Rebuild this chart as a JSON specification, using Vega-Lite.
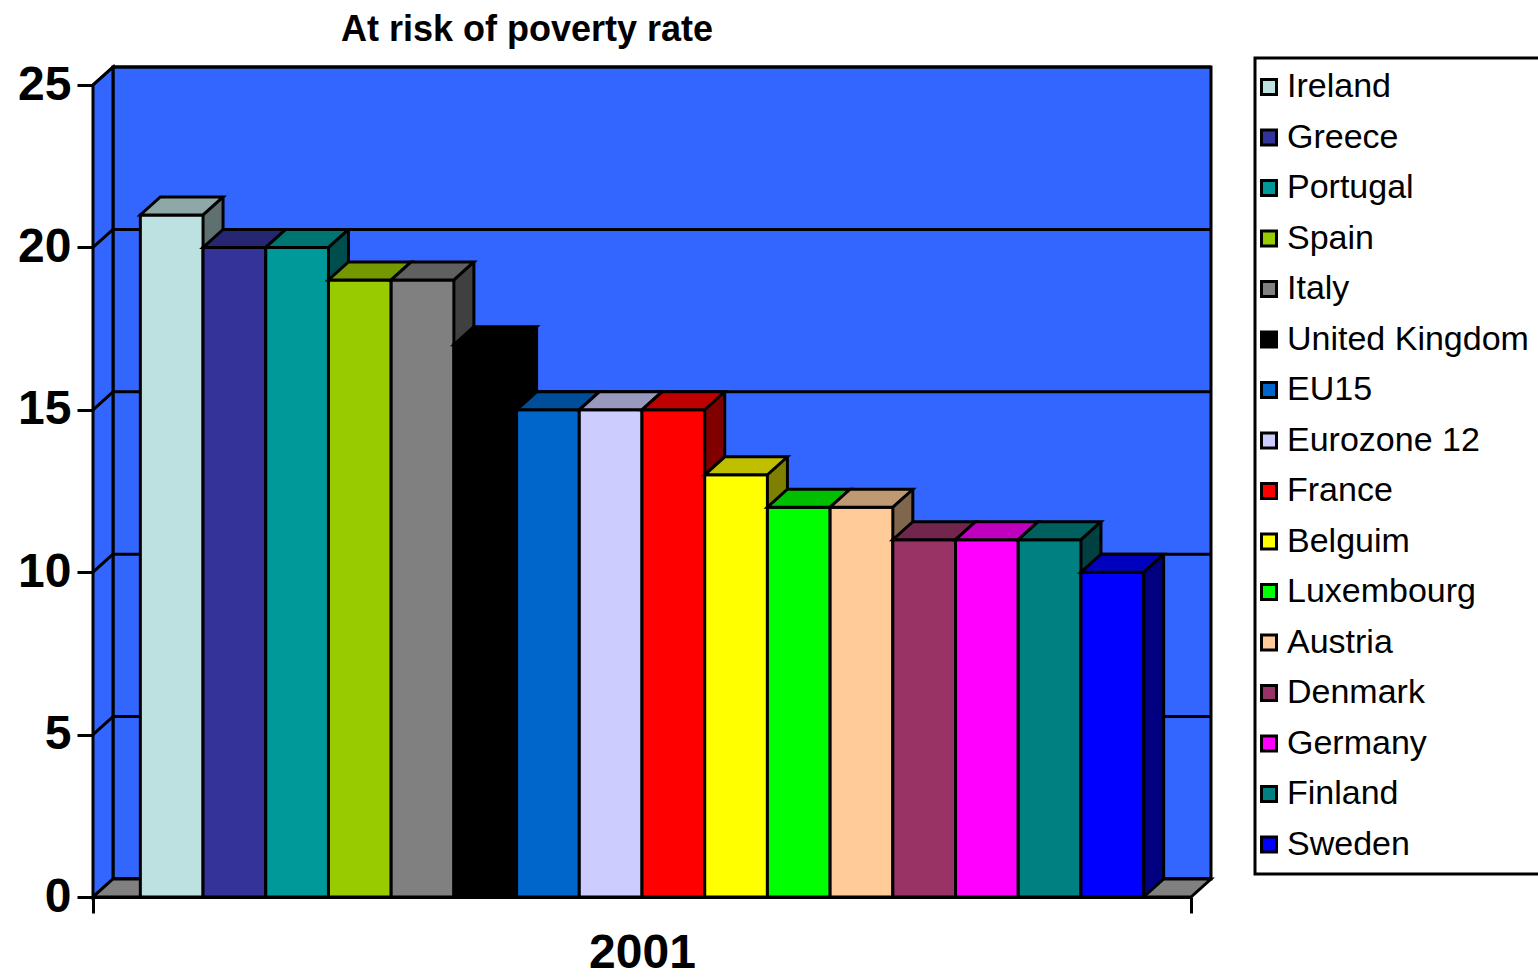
{
  "$schema": "https://vega.github.io/schema/vega-lite/v6.json",
  "width": 1098,
  "height": 812,
  "autosize": {"type": "none"},
  "padding": {"left": 93, "top": 85, "right": 347, "bottom": 82},
  "background": "white",
  "config": {
    "view": {"stroke": null},
    "font": "Liberation Sans",
    "legend": {"strokeWidth": 3},
    "axisY": {"grid": false, "tickCount": 5, "domainColor": "black", "domainWidth": 3, "tickColor": "black", "tickWidth": 3, "tickSize": 16, "labelFontSize": 48, "labelFontWeight": "bold", "labelColor": "black", "labelPadding": 6, "labelFont": "Liberation Sans"}
  },
  "title": {"text": "At risk of poverty rate", "fontSize": 36, "fontWeight": "bold", "font": "Liberation Sans", "color": "black", "anchor": "middle", "frame": "group", "dx": -115, "offset": 8},
  "datasets": {
    "bars": [
      {"country": "Ireland", "value": 21},
      {"country": "Greece", "value": 20},
      {"country": "Portugal", "value": 20},
      {"country": "Spain", "value": 19},
      {"country": "Italy", "value": 19},
      {"country": "United Kingdom", "value": 17},
      {"country": "EU15", "value": 15},
      {"country": "Eurozone 12", "value": 15},
      {"country": "France", "value": 15},
      {"country": "Belguim", "value": 13},
      {"country": "Luxembourg", "value": 12},
      {"country": "Austria", "value": 12},
      {"country": "Denmark", "value": 11},
      {"country": "Germany", "value": 11},
      {"country": "Finland", "value": 11},
      {"country": "Sweden", "value": 10}
    ],
    "wall": [{"year": "2001"}],
    "ticks": [
      {"year": "2001", "tick": 0},
      {"year": "2001", "tick": 5},
      {"year": "2001", "tick": 10},
      {"year": "2001", "tick": 15},
      {"year": "2001", "tick": 20},
      {"year": "2001", "tick": 25}
    ]
  },
  "resolve": {"scale": {"x": "independent"}},
  "layer": [
    {
      "data": {"name": "wall"},
      "mark": {"type": "bar", "fill": "#3366FF", "stroke": "black", "strokeWidth": 3, "xOffset": 20, "yOffset": -18, "y2Offset": -18},
      "encoding": {
        "x": {"field": "year", "type": "nominal", "scale": {"type": "band", "paddingInner": 0, "paddingOuter": 0}, "axis": null},
        "y": {"datum": 25, "type": "quantitative", "title": null, "scale": {"domain": [0, 25], "nice": false}},
        "y2": {"datum": 0}
      }
    },
    {
      "data": {"name": "ticks"},
      "mark": {"type": "point", "shape": "M0.03643,-0.03279L2.03643,-0.03279", "size": 1205604, "filled": false, "stroke": "black", "strokeWidth": 3, "opacity": 1},
      "encoding": {
        "x": {"field": "year", "type": "nominal", "bandPosition": 0, "scale": {"type": "band", "paddingInner": 0, "paddingOuter": 0}, "axis": null},
        "y": {"field": "tick", "type": "quantitative", "title": null, "scale": {"domain": [0, 25], "nice": false}}
      }
    },
    {
      "data": {"name": "wall"},
      "mark": {"type": "point", "shape": "M0,0L1,-0.9L1,-41.5L0,-40.6Z", "size": 1600, "filled": true, "fill": "#3366FF", "stroke": "black", "strokeWidth": 3, "opacity": 1},
      "encoding": {
        "x": {"field": "year", "type": "nominal", "bandPosition": 0, "scale": {"type": "band", "paddingInner": 0, "paddingOuter": 0}, "axis": null},
        "y": {"datum": 0, "type": "quantitative", "title": null}
      }
    },
    {
      "data": {"name": "ticks"},
      "mark": {"type": "point", "shape": "M0,0L1,-0.9", "size": 1600, "filled": false, "stroke": "black", "strokeWidth": 3, "opacity": 1},
      "encoding": {
        "x": {"field": "year", "type": "nominal", "bandPosition": 0, "scale": {"type": "band", "paddingInner": 0, "paddingOuter": 0}, "axis": null},
        "y": {"field": "tick", "type": "quantitative", "title": null}
      }
    },
    {
      "data": {"name": "wall"},
      "mark": {"type": "point", "shape": "M-1,0L1,0L1.03643,-0.03279L-0.96357,-0.03279Z", "size": 1205604, "filled": true, "fill": "#808080", "stroke": "black", "strokeWidth": 3, "opacity": 1},
      "encoding": {
        "x": {"field": "year", "type": "nominal", "scale": {"type": "band", "paddingInner": 0, "paddingOuter": 0},
          "axis": {"title": null, "domainColor": "black", "domainWidth": 3, "tickColor": "black", "tickWidth": 3, "tickSize": 16, "tickBand": "extent", "labelFontSize": 48, "labelFontWeight": "bold", "labelColor": "black", "labelPadding": 16, "labelDx": -4, "labelAngle": 0, "labelFont": "Liberation Sans"}},
        "y": {"datum": 0, "type": "quantitative", "title": null}
      }
    },
    {
      "data": {"name": "bars"},
      "resolve": {"scale": {"fill": "independent"}},
      "encoding": {
        "x": {"field": "country", "type": "nominal", "sort": null, "scale": {"type": "band", "paddingInner": 0, "paddingOuter": 0.755}, "axis": null},
        "y": {"field": "value", "type": "quantitative", "title": null}
      },
      "layer": [
        {
          "mark": {"type": "bar", "xOffset": 20, "yOffset": -18, "y2Offset": -18},
          "encoding": {
            "fill": {"field": "country", "type": "nominal", "sort": null, "legend": null,
              "scale": {"domain": ["Ireland","Greece","Portugal","Spain","Italy","United Kingdom","EU15","Eurozone 12","France","Belguim","Luxembourg","Austria","Denmark","Germany","Finland","Sweden"],
                "range": ["#5F7070","#1A1A4D","#004D4D","#4D6600","#404040","#000000","#003366","#666680","#800000","#808000","#008000","#80664D","#4D1A33","#800080","#004040","#000080"]}}
          }
        },
        {
          "mark": {"type": "point", "shape": "M1,0L1.638,-0.574L1.638,-0.64L1,-0.64Z", "size": 3932, "filled": true, "opacity": 1, "strokeWidth": 0},
          "encoding": {
            "y": {"datum": 0, "type": "quantitative", "title": null},
            "fill": {"field": "country", "type": "nominal", "sort": null, "legend": null,
              "scale": {"domain": ["Ireland","Greece","Portugal","Spain","Italy","United Kingdom","EU15","Eurozone 12","France","Belguim","Luxembourg","Austria","Denmark","Germany","Finland","Sweden"],
                "range": ["#5F7070","#1A1A4D","#004D4D","#4D6600","#404040","#000000","#003366","#666680","#800000","#808000","#008000","#80664D","#4D1A33","#800080","#004040","#000080"]}}
          }
        },
        {
          "mark": {"type": "rule", "stroke": "black", "strokeWidth": 3, "xOffset": 20, "yOffset": -18, "y2Offset": -18},
          "encoding": {
            "x": {"field": "country", "type": "nominal", "sort": null, "bandPosition": 1, "axis": null},
            "y2": {"datum": 0}
          }
        },
        {
          "mark": {"type": "point", "shape": "M1,0L1.638,-0.574", "size": 3932, "filled": false, "opacity": 1, "stroke": "black", "strokeWidth": 3},
          "encoding": {
            "y": {"datum": 0, "type": "quantitative", "title": null}
          }
        },
        {
          "mark": {"type": "bar", "stroke": "black", "strokeWidth": 3},
          "encoding": {
            "fill": {"field": "country", "type": "nominal", "sort": null,
              "scale": {"domain": ["Ireland","Greece","Portugal","Spain","Italy","United Kingdom","EU15","Eurozone 12","France","Belguim","Luxembourg","Austria","Denmark","Germany","Finland","Sweden"],
                "range": ["#BDE0E0","#333399","#009999","#99CC00","#808080","#000000","#0066CC","#CCCCFF","#FF0000","#FFFF00","#00FF00","#FFCC99","#993366","#FF00FF","#008080","#0000FF"]},
              "legend": {"title": null, "orient": "none", "legendX": 1162, "legendY": -27, "direction": "vertical", "columns": 1,
                "symbolType": "square", "symbolSize": 225, "symbolStrokeColor": "black", "symbolStrokeWidth": 3, "symbolOffset": -15,
                "labelFontSize": 34, "labelFont": "Liberation Sans", "labelColor": "black", "labelOffset": 1, "labelLimit": 500,
                "rowPadding": 16.5, "padding": 12, "strokeColor": "black", "fillColor": "white"}}
          }
        },
        {
          "mark": {"type": "point", "shape": "M-1,0L1,0L1.638,-0.574L-0.362,-0.574Z", "size": 3932, "filled": true, "opacity": 1, "stroke": "black", "strokeWidth": 3},
          "encoding": {
            "fill": {"field": "country", "type": "nominal", "sort": null, "legend": null,
              "scale": {"domain": ["Ireland","Greece","Portugal","Spain","Italy","United Kingdom","EU15","Eurozone 12","France","Belguim","Luxembourg","Austria","Denmark","Germany","Finland","Sweden"],
                "range": ["#8EA8A8","#262673","#007373","#739900","#606060","#000000","#004D99","#9999BF","#BF0000","#BFBF00","#00BF00","#BF9973","#73264D","#BF00BF","#006060","#0000BF"]}}
          }
        }
      ]
    }
  ]
}
